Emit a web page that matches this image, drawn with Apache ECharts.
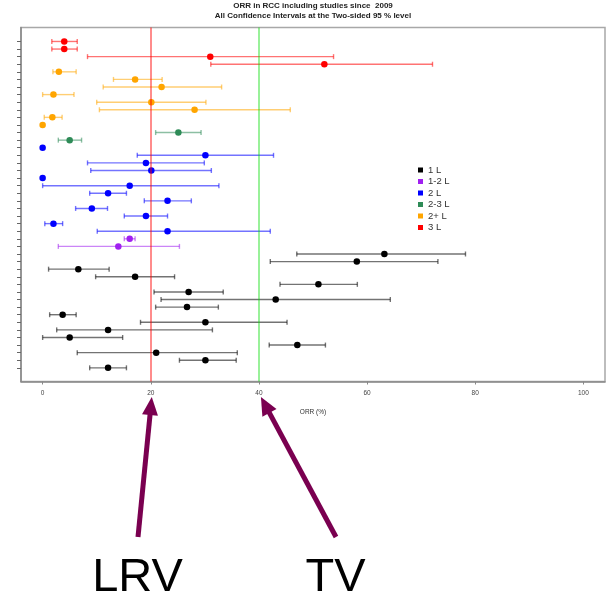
<!DOCTYPE html>
<html>
<head>
<meta charset="utf-8">
<script src="https://cdn.jsdelivr.net/npm/echarts@6/dist/echarts.min.js"></script>
<style>html,body{margin:0;padding:0;background:#fff}#c{width:606px;height:599px}</style>
</head>
<body>
<div id="c"></div>
<script>
// ---- data ----
const groupNames = ['1 L', '1-2 L', '2 L', '2-3 L', '2+ L', '3 L'];
const groupColors = ['#000000', '#a020f0', '#0000ff', '#2e8b57', '#ffa500', '#ff0000'];
const xTickValues = [0, 20, 40, 60, 80, 100];
const refLines = [20, 40];
// one entry per study row (top to bottom)
const rowGroup = [
  '3 L', '3 L', '3 L', '3 L',
  '2+ L', '2+ L', '2+ L', '2+ L', '2+ L', '2+ L', '2+ L', '2+ L',
  '2-3 L', '2-3 L',
  '2 L', '2 L', '2 L', '2 L', '2 L', '2 L', '2 L', '2 L', '2 L', '2 L', '2 L', '2 L',
  '1-2 L', '1-2 L',
  '1 L', '1 L', '1 L', '1 L', '1 L', '1 L', '1 L', '1 L', '1 L', '1 L', '1 L', '1 L', '1 L', '1 L', '1 L', '1 L'
];
const estimate = [
  4.0, 4.0, 31.0, 52.1,
  3.0, 17.1, 22.0, 2.0, 20.1, 28.1, 1.8, 0.0,
  25.1, 5.0,
  0.0, 30.1, 19.1, 20.1, 0.0, 16.1, 12.1, 23.1, 9.1, 19.1, 2.0, 23.1,
  16.1, 14.0,
  63.2, 58.1, 6.6, 17.1, 51.0, 27.0, 43.1, 26.7, 3.7, 30.1, 12.1, 5.0, 47.1, 21.0, 30.1, 12.1
];
const lower = [
  1.7, 1.7, 8.3, 31.1,
  1.9, 13.1, 11.2, 0.0, 10.0, 10.5, 0.3, null,
  20.9, 2.9,
  null, 17.5, 8.3, 8.9, null, 0.0, 8.7, 18.8, 6.1, 15.1, 0.4, 10.1,
  15.1, 2.9,
  47.0, 42.1, 1.1, 9.8, 43.9, 20.6, 21.9, 20.9, 1.3, 18.1, 2.6, 0.0, 41.9, 6.4, 25.3, 8.7
];
const upper = [
  6.4, 6.4, 53.8, 72.1,
  6.2, 22.1, 33.1, 5.8, 30.2, 45.8, 3.6, null,
  29.3, 7.2,
  null, 42.7, 29.9, 31.2, null, 32.6, 15.5, 27.5, 12.0, 23.1, 3.7, 42.1,
  17.1, 25.3,
  78.2, 73.1, 12.3, 24.4, 58.2, 33.4, 64.3, 32.5, 6.2, 45.2, 31.4, 14.8, 52.3, 36.0, 35.8, 15.5
];
const titleLines = ['ORR in RCC including studies since  2009', 'All Confidence Intervals at the Two-sided 95 % level'];
const xAxisName = 'ORR (%)';
const annotations = [{ text: 'LRV', value: 20 }, { text: 'TV', value: 40 }];

// ---- chart ----
const chart = echarts.init(document.getElementById('c'), null, { renderer: 'canvas' });
const nRows = estimate.length;
const rowTicks = [];
for (let i = 0; i < nRows; i++) rowTicks.push(i);

const series = [];
groupNames.forEach(function (g, gi) {
  const color = groupColors[gi];
  const ciData = [], ptData = [];
  for (let i = 0; i < nRows; i++) {
    if (rowGroup[i] !== g) continue;
    ptData.push([estimate[i], i]);
    if (lower[i] != null) ciData.push([estimate[i], i, lower[i], upper[i]]);
  }
  series.push({
    name: g, type: 'custom', data: ciData, z: 2,
    itemStyle: { color: color },
    renderItem: function (params, api) {
      const y = api.value(1);
      const p1 = api.coord([api.value(2), y]);
      const p2 = api.coord([api.value(3), y]);
      const h = 2.5;
      const st = { stroke: color, lineWidth: 1.4, opacity: 0.55 };
      return { type: 'group', children: [
        { type: 'line', shape: { x1: p1[0], y1: p1[1], x2: p2[0], y2: p2[1] }, style: st },
        { type: 'line', shape: { x1: p1[0], y1: p1[1] - h, x2: p1[0], y2: p1[1] + h }, style: st },
        { type: 'line', shape: { x1: p2[0], y1: p2[1] - h, x2: p2[0], y2: p2[1] + h }, style: st }
      ] };
    }
  });
  series.push({
    name: g, type: 'scatter', data: ptData, z: 3,
    symbol: 'circle', symbolSize: 6.5,
    itemStyle: { color: color, opacity: 1 }
  });
});
// reference lines
series.push({
  type: 'line', data: [], z: 1, silent: true,
  markLine: {
    silent: true, symbol: 'none', label: { show: false },
    data: [
      { xAxis: refLines[0], lineStyle: { color: 'rgba(255,0,0,0.45)', width: 2, type: 'solid' } },
      { xAxis: refLines[1], lineStyle: { color: 'rgba(0,220,0,0.4)', width: 2, type: 'solid' } }
    ]
  }
});

chart.setOption({
  animation: false,
  backgroundColor: '#fff',
  textStyle: { fontFamily: 'Liberation Sans, Arial, sans-serif' },
  grid: { left: 21, right: 1, top: 27.5, bottom: 217.5, show: true, borderColor: '#a8a8a8', borderWidth: 1.5 },
  legend: {
    orient: 'vertical', left: 413, top: 160, itemGap: 1.5,
    icon: 'rect', itemWidth: 5, itemHeight: 5,
    selectedMode: false,
    data: groupNames,
    textStyle: { fontSize: 9.5, color: '#333', padding: [0, 0, 0, 0] }
  },
  xAxis: {
    type: 'value', min: -4, max: 104,
    name: xAxisName, nameLocation: 'middle', nameGap: 27,
    nameTextStyle: { fontSize: 6.5, color: '#333' },
    axisLine: { show: true, onZero: false, lineStyle: { color: '#888', width: 1.5 } },
    axisTick: { show: true, length: 3, customValues: xTickValues, lineStyle: { color: '#888' } },
    axisLabel: { customValues: xTickValues, fontSize: 6.5, color: '#444', margin: 8 },
    splitLine: { show: false }
  },
  yAxis: {
    type: 'value', inverse: true, min: -1.84, max: 44.8,
    axisLine: { show: true, onZero: false, lineStyle: { color: '#888', width: 1.5 } },
    axisTick: { show: true, length: 4, customValues: rowTicks, lineStyle: { color: '#666' } },
    axisLabel: { show: false },
    splitLine: { show: false }
  },
  series: series
});

// title + annotations
const cx = (21 + 605) / 2;
const elements = [
  { type: 'text', x: cx, y: 6, style: { text: titleLines[0], font: 'bold 8px Liberation Sans, Arial, sans-serif', fill: '#222', align: 'center', verticalAlign: 'middle' } },
  { type: 'text', x: cx, y: 16, style: { text: titleLines[1], font: 'bold 8px Liberation Sans, Arial, sans-serif', fill: '#222', align: 'center', verticalAlign: 'middle' } }
];
const arrowColor = '#7a0050';
const tails = [[138, 537], [336, 537]];
const labelX = [137.5, 335.5];
annotations.forEach(function (a, k) {
  const tip = [chart.convertToPixel({ xAxisIndex: 0 }, a.value) + (k === 0 ? 1 : 2), 397];
  const t = tails[k];
  const dx = tip[0] - t[0], dy = tip[1] - t[1];
  const len = Math.sqrt(dx * dx + dy * dy);
  const ux = dx / len, uy = dy / len;
  const hl = 18, hw = 8;
  const bx = tip[0] - hl * ux, by = tip[1] - hl * uy;
  const px = -uy, py = ux;
  elements.push({ type: 'line', shape: { x1: t[0], y1: t[1], x2: bx + ux * 2, y2: by + uy * 2 }, style: { stroke: arrowColor, lineWidth: 5 } });
  elements.push({ type: 'polygon', shape: { points: [[tip[0], tip[1]], [bx + hw * px, by + hw * py], [bx - hw * px, by - hw * py]] }, style: { fill: arrowColor } });
  elements.push({ type: 'text', x: labelX[k], y: 578, style: { text: a.text, font: '47px Liberation Sans, Arial, sans-serif', fill: '#000', align: 'center', verticalAlign: 'middle' } });
});
chart.setOption({ graphic: { elements: elements } });
</script>
</body>
</html>
